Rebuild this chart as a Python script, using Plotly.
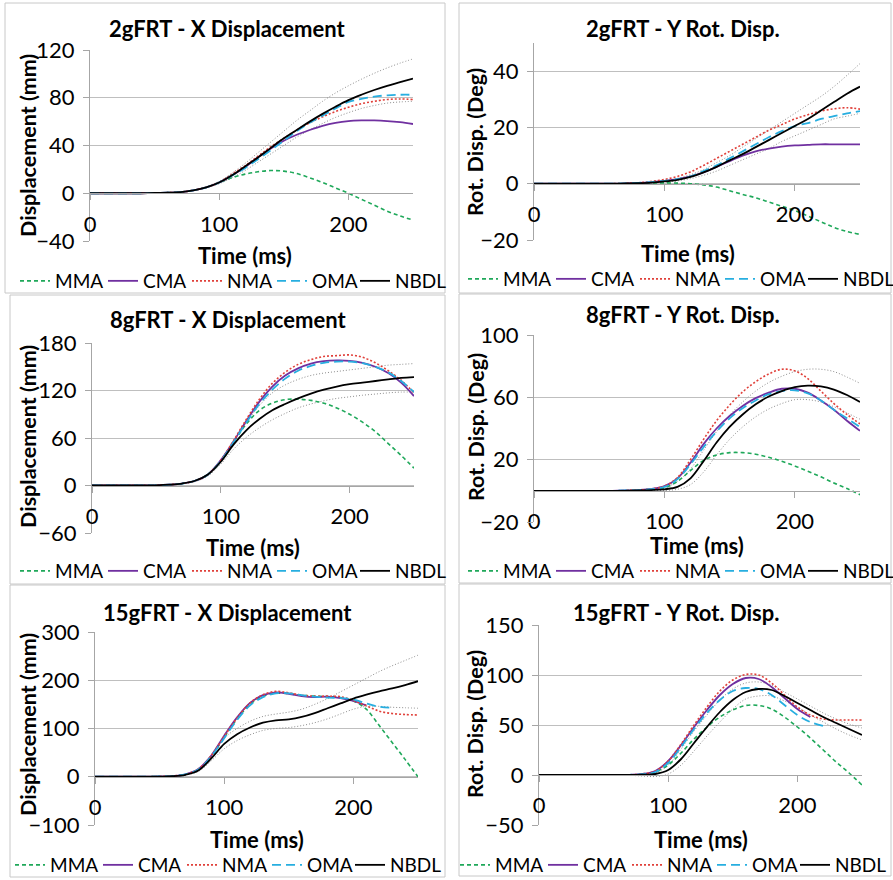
import plotly.graph_objects as go

W, H = 893, 880

# ---------------- data ----------------
time_ms = [0, 10, 20, 30, 40, 50, 60, 70, 80, 90, 100, 110, 120, 130, 140, 150, 160, 170, 180, 190, 200, 210, 220, 230, 240, 250]
series_names = ["MMA", "CMA", "NMA", "OMA", "NBDL"]
x_ticks = [0, 100, 200]

panel_titles = ["2gFRT - X Displacement", "2gFRT - Y Rot. Disp.",
                "8gFRT - X Displacement", "8gFRT - Y Rot. Disp.",
                "15gFRT - X Displacement", "15gFRT - Y Rot. Disp."]
y_titles = ["Displacement (mm)", "Rot. Disp. (Deg)",
            "Displacement (mm)", "Rot. Disp. (Deg)",
            "Displacement (mm)", "Rot. Disp. (Deg)"]
x_title = "Time (ms)"
y_ranges = [(-40, 120), (-20, 50), (-60, 180), (-20, 100), (-100, 300), (-50, 150)]
y_steps = [40, 20, 60, 40, 100, 50]

# 2g X displacement (mm)
p1_mma = [0, 0, 0, 0, 0, 0.2, 0.5, 1, 2.5, 5, 9, 13, 16, 18, 19, 18.5, 16.5, 13, 9, 4.5, 0, -5, -10, -15, -19, -22.5]
p1_cma = [0, 0, 0, 0, 0, 0.2, 0.5, 1, 2.5, 5, 9, 15, 22, 30, 37.5, 44, 49, 53, 56.5, 59, 60.5, 61, 61, 60.5, 59.5, 58]
p1_nma = [0, 0, 0, 0, 0, 0.2, 0.5, 1, 2.5, 5, 9, 16, 23, 31, 39, 46, 53, 59, 64, 68.5, 72, 75, 77, 78.5, 79, 78.5]
p1_oma = [0, 0, 0, 0, 0, 0.2, 0.5, 1, 2.5, 5, 9, 15, 21, 28.5, 36, 44, 52, 59, 65, 71, 76.5, 79, 81, 82, 82.5, 82.5]
p1_nbdl = [0, 0, 0, 0, 0, 0.2, 0.5, 1, 2.5, 5, 9, 15, 22.5, 30, 38, 46, 53, 60, 66.5, 72.5, 78, 82.5, 86.5, 90, 93, 96]
p1_upper = [0, 0, 0, 0, 0, 0.2, 0.5, 1, 2.5, 5.5, 10, 17, 25, 34, 43, 52, 61, 69, 77, 84, 90, 95.5, 100.5, 105, 109, 112.5]
p1_lower = [0, 0, 0, 0, 0, 0.2, 0.5, 1, 2.3, 4.5, 8, 13, 19, 26, 33, 40, 47, 53, 58.5, 63.5, 67.5, 71, 73.5, 75.5, 76.5, 77]

# 2g Y rotation (deg)
p2_mma = [0, 0, 0, 0, 0, 0, 0, 0.1, 0.2, 0.3, 0.3, 0.2, 0, -0.4, -1.2, -2.5, -3.8, -5, -6.5, -8, -9.5, -11.5, -13.5, -15.5, -17, -18]
p2_cma = [0, 0, 0, 0, 0, 0, 0, 0.1, 0.3, 0.6, 1, 1.6, 2.6, 4, 6, 8, 10, 11.5, 12.5, 13.2, 13.6, 13.8, 14, 14, 14, 14]
p2_nma = [0, 0, 0, 0, 0, 0, 0, 0.1, 0.3, 0.8, 1.5, 2.6, 4.2, 6.5, 9, 11.5, 14, 16.5, 19, 21, 23, 24.5, 25.8, 26.6, 27, 26.5]
p2_oma = [0, 0, 0, 0, 0, 0, 0, 0.1, 0.3, 0.6, 1, 1.6, 2.6, 4.5, 6.5, 9, 11.5, 14, 16.5, 18.7, 20.5, 21.5, 23, 24, 25, 25.8]
p2_nbdl = [0, 0, 0, 0, 0, 0, 0, 0.1, 0.2, 0.4, 0.8, 1.4, 2.4, 4, 6, 8.3, 10.5, 13, 15.5, 18, 20.5, 23, 26, 29, 32, 34.5]
p2_upper = [0, 0, 0, 0, 0, 0, 0, 0.1, 0.3, 0.6, 1.1, 1.9, 3.2, 5, 7.5, 10, 13, 16, 19, 22, 25, 28, 31, 34.5, 38.5, 42.7]
p2_lower = [0, 0, 0, 0, 0, 0, 0, 0, 0.1, 0.2, 0.5, 1, 1.8, 3, 4.5, 6.5, 8.5, 10.5, 12.5, 15, 17, 19, 21, 23, 24, 25]

# 8g X displacement (mm)
p3_mma = [0, 0, 0, 0, 0, 0.2, 1, 2.5, 6, 14, 31, 55, 78, 95, 104, 108.5, 109, 107.5, 104, 98, 90, 80, 68, 53, 38, 22]
p3_cma = [0, 0, 0, 0, 0, 0.2, 1, 2.5, 6, 14, 32, 56, 82, 106, 125, 139, 148, 154, 157, 158, 157.5, 155, 150, 142, 130, 113]
p3_nma = [0, 0, 0, 0, 0, 0.2, 1, 2.5, 6, 14, 32, 57, 84, 109, 129, 143, 153, 159, 163, 164, 165, 162, 155, 145, 133, 117]
p3_oma = [0, 0, 0, 0, 0, 0.2, 1, 2.5, 6, 14, 31, 55, 80, 103, 121, 135, 145, 151, 155, 156.5, 156.5, 154.5, 150, 143, 132, 118]
p3_nbdl = [0, 0, 0, 0, 0, 0.2, 1, 2.5, 6, 14, 30, 52, 70, 84, 95, 103, 110, 116, 121, 125, 128, 130, 132, 134, 136, 137]
p3_upper = [0, 0, 0, 0, 0, 0.2, 1, 2.5, 6, 14, 32, 56, 80, 101, 117, 127, 134, 139, 142, 144, 146, 148, 150, 152, 153, 154]
p3_lower = [0, 0, 0, 0, 0, 0.2, 1, 2.2, 5, 12, 27, 46, 61, 73, 83, 91, 98, 103, 107, 110, 112, 114, 115.5, 117, 118, 118]

# 8g Y rotation (deg)
p4_mma = [0, 0, 0, 0, 0, 0, 0, 0.2, 0.5, 1, 2, 6, 13, 19.5, 23, 24.5, 24.5, 23.5, 21.5, 19, 16, 12.5, 9, 5, 1.5, -2.5]
p4_cma = [0, 0, 0, 0, 0, 0, 0, 0.2, 0.5, 1.2, 3, 8, 18, 30, 40, 48, 54.5, 59.5, 63, 65.5, 65.5, 63, 58, 52, 45, 38.5]
p4_nma = [0, 0, 0, 0, 0, 0, 0, 0.2, 0.5, 1.2, 3, 8.5, 20, 33, 45, 55, 63.5, 70, 75, 78, 77, 72, 64, 56, 49, 43]
p4_oma = [0, 0, 0, 0, 0, 0, 0, 0.2, 0.5, 1.1, 2.5, 7.5, 17, 28, 38, 46.5, 53, 58, 62, 64, 64.5, 62.5, 58, 52, 46.5, 41]
p4_nbdl = [0, 0, 0, 0, 0, 0, 0, 0, 0.2, 0.5, 1, 2.5, 8, 19, 31, 41, 49, 55.5, 60.5, 64, 66.5, 67.5, 67, 65, 61.5, 57]
p4_upper = [0, 0, 0, 0, 0, 0, 0, 0.2, 0.4, 0.9, 2, 6, 14, 26, 38, 48.5, 57, 64, 69.5, 73.5, 76.5, 78, 78, 76.5, 73, 69]
p4_lower = [0, 0, 0, 0, 0, 0, 0, 0, 0, 0.1, 0.3, 1, 4, 12, 23, 33, 41, 47.5, 52.5, 56, 58.5, 58.5, 57, 54, 50, 46]

# 15g X displacement (mm)
p5_mma = [0, 0, 0, 0, 0, 0.5, 1.5, 5, 15, 42, 82, 120, 150, 167, 173, 172, 169, 167, 166, 164, 157, 140, 106, 71, 36, 0]
p5_cma = [0, 0, 0, 0, 0, 0.5, 1.5, 5, 16, 44, 85, 123, 153, 169, 175, 172, 167, 165, 166, 163, 157, 148]
p5_nma = [0, 0, 0, 0, 0, 0.5, 1.5, 5, 16, 44, 84, 122, 153, 170, 177, 174, 169, 167, 167, 166, 158, 147, 136, 131, 129, 128]
p5_oma = [0, 0, 0, 0, 0, 0.5, 1.5, 5, 15, 42, 80, 118, 148, 165, 173, 173, 169, 166, 164, 163, 160, 152, 145, 143]
p5_nbdl = [0, 0, 0, 0, 0, 0.3, 1, 4, 13, 38, 68, 88, 102, 112, 117, 119, 124, 132, 142, 152, 162, 170, 177, 183, 190, 198]
p5_upper = [0, 0, 0, 0, 0, 0.3, 1.2, 4.5, 15, 42, 80, 100, 115, 125, 130, 134, 140, 150, 162, 176, 190, 204, 218, 230, 241, 252]
p5_lower = [0, 0, 0, 0, 0, 0.2, 0.8, 3.5, 11, 33, 58, 75, 87, 96, 100, 102, 106, 112, 120, 130, 140, 146, 146, 144, 143, 142]

# 15g Y rotation (deg)
p6_mma = [0, 0, 0, 0, 0, 0, 0, 0, 0.5, 3, 10, 22, 36, 48, 58, 65, 69.5, 69.5, 66, 58, 48, 37, 25, 13, 2, -10]
p6_cma = [0, 0, 0, 0, 0, 0, 0, 0.2, 1, 4, 14, 30, 48, 65, 80, 91, 97, 96, 88, 77, 66, 58]
p6_nma = [0, 0, 0, 0, 0, 0, 0, 0.2, 1, 4, 14, 31, 50, 68, 84, 95, 100.5, 100, 92, 80, 68, 60, 56, 55, 55, 55]
p6_oma = [0, 0, 0, 0, 0, 0, 0, 0.2, 0.8, 3, 12, 28, 46, 62, 75, 84, 87, 86, 80, 70, 60, 53, 49]
p6_nbdl = [0, 0, 0, 0, 0, 0, 0, 0, 0.3, 1, 5, 16, 32, 48, 63, 75, 83, 86, 85, 79, 72, 65, 58, 52, 46, 40]
p6_upper = [0, 0, 0, 0, 0, 0, 0, 0.2, 0.8, 2, 10, 26, 44, 60, 75, 86, 92, 93, 90, 83, 76, 69, 62, 56, 51, 47]
p6_lower = [0, 0, 0, 0, 0, 0, 0, -0.3, -1, -1.5, 1, 10, 24, 39, 53, 66, 76, 79, 79, 74, 68, 60, 53, 46, 40, 35]

panels_series = [
    [p1_mma, p1_cma, p1_nma, p1_oma, p1_nbdl, p1_upper, p1_lower],
    [p2_mma, p2_cma, p2_nma, p2_oma, p2_nbdl, p2_upper, p2_lower],
    [p3_mma, p3_cma, p3_nma, p3_oma, p3_nbdl, p3_upper, p3_lower],
    [p4_mma, p4_cma, p4_nma, p4_oma, p4_nbdl, p4_upper, p4_lower],
    [p5_mma, p5_cma, p5_nma, p5_oma, p5_nbdl, p5_upper, p5_lower],
    [p6_mma, p6_cma, p6_nma, p6_oma, p6_nbdl, p6_upper, p6_lower],
]

# ---------------- layout (pixels) ----------------
plot_boxes = [  # left, right, top, bottom of plot area
    (90, 413, 50, 241), (534, 860, 43, 240),
    (92, 414, 343, 533), (534, 860, 335, 522),
    (95, 418, 632, 825), (539, 862, 625, 825),
]
frames = [(5, 445, 3, 293), (459, 891, 3, 293),
          (10, 445, 295, 584), (459, 891, 294, 583),
          (10, 445, 585, 877), (459, 891, 584, 876)]
title_pos = [(227, 28), (683, 28), (228, 319), (683, 315), (228, 612), (676, 612)]
ytitle_pos = [(28, 146), (475, 142), (28, 437), (476, 427), (28, 725), (475, 724)]
xtitle_pos = [(245, 255), (688, 254), (253, 547), (697, 545), (257, 839), (701, 839)]
legend_pos = [(15, 281), (463, 279), (15, 571), (463, 571), (10, 865), (455, 865)]
legend_widths = [43, 39, 40, 38, 49]

colors = ["#1FA85A", "#7030A0", "#E0403A", "#27AEE0", "#000000", "#8C8C8C", "#8C8C8C"]
dashes = ["4px,3px", "solid", "2px,2px", "9px,5px", "solid", "1px,2px", "1px,2px"]
widths = [1.6, 1.8, 1.6, 1.8, 1.8, 1, 1]

FONT = "Lato"
GRID = "#BFBFBF"

def px_x(p):
    return p / W

def px_y(p):
    return 1 - p / H

fig = go.Figure()
layout = dict(width=W, height=H, margin=dict(l=0, r=0, t=0, b=0, autoexpand=False),
              paper_bgcolor="white", plot_bgcolor="white",
              font=dict(family=FONT, color="black"))
annotations = []
shapes = []

for i in range(6):
    n = i + 1
    sfx = "" if n == 1 else str(n)
    L, R, T, B = plot_boxes[i]
    ymin, ymax = y_ranges[i]
    zero_px = T + (ymax - 0) / (ymax - ymin) * (B - T)
    leg = "legend" + sfx
    for k in (5, 6):
        ys = panels_series[i][k]
        fig.add_trace(go.Scatter(x=time_ms[:len(ys)], y=ys, mode="lines", line_shape="spline",
                                 line=dict(color=colors[k], dash=dashes[k], width=widths[k]),
                                 showlegend=False, hoverinfo="skip",
                                 xaxis="x" + sfx, yaxis="y" + sfx))
    for k in range(5):
        ys = panels_series[i][k]
        fig.add_trace(go.Scatter(x=time_ms[:len(ys)], y=ys, mode="lines", line_shape="spline",
                                 name=series_names[k], legendwidth=legend_widths[k],
                                 line=dict(color=colors[k], dash=dashes[k], width=widths[k]),
                                 legend=leg, showlegend=True,
                                 xaxis="x" + sfx, yaxis="y" + sfx))
    layout["xaxis" + sfx] = dict(domain=[px_x(L), px_x(R)], range=[0, 250], anchor="free",
                                 position=px_y(zero_px), showgrid=False, zeroline=False,
                                 showline=True, linecolor="#A6A6A6", linewidth=1,
                                 tickvals=x_ticks, ticks="outside", ticklen=6, tickcolor="#A6A6A6",
                                 ticklabelstandoff=5,
                                 tickfont=dict(family=FONT, size=22, color="black"))
    layout["yaxis" + sfx] = dict(domain=[px_y(B), px_y(T)], range=[ymin, ymax],
                                 anchor="x" + sfx, tick0=ymin, dtick=y_steps[i],
                                 showgrid=True, gridcolor=GRID, gridwidth=1, zeroline=False,
                                 showline=True, linecolor="#A6A6A6", linewidth=1,
                                 ticks="outside", ticklen=6, tickcolor="#A6A6A6",
                                 ticklabelstandoff=4,
                                 tickfont=dict(family=FONT, size=22, color="black"))
    lx, ly = legend_pos[i]
    layout[leg] = dict(orientation="h", x=px_x(lx), y=px_y(ly), xanchor="left", yanchor="middle",
                       bgcolor="rgba(0,0,0,0)", itemwidth=30,
                       font=dict(family=FONT, size=19, color="black"), tracegroupgap=0)
    fl, fr, ft, fb = frames[i]
    shapes.append(dict(type="rect", xref="paper", yref="paper",
                       x0=px_x(fl), x1=px_x(fr), y0=px_y(fb), y1=px_y(ft),
                       line=dict(color="#C8C8C8", width=1), fillcolor="rgba(0,0,0,0)", layer="below"))
    tx, ty = title_pos[i]
    annotations.append(dict(text="<b>" + panel_titles[i] + "</b>", x=px_x(tx), y=px_y(ty),
                            xref="paper", yref="paper", showarrow=False, xanchor="center", yanchor="middle",
                            font=dict(family=FONT, size=22, color="black")))
    yx, yy = ytitle_pos[i]
    annotations.append(dict(text="<b>" + y_titles[i] + "</b>", x=px_x(yx), y=px_y(yy),
                            xref="paper", yref="paper", showarrow=False, textangle=-90,
                            xanchor="center", yanchor="middle",
                            font=dict(family=FONT, size=21.5, color="black")))
    xx, xy = xtitle_pos[i]
    annotations.append(dict(text="<b>" + x_title + "</b>", x=px_x(xx), y=px_y(xy),
                            xref="paper", yref="paper", showarrow=False,
                            xanchor="center", yanchor="middle", borderpad=0,
                            font=dict(family=FONT, size=22, color="black")))

layout["annotations"] = annotations
layout["shapes"] = shapes
fig.update_layout(**layout)
fig.write_html("out.html",
               post_script="document.body.style.margin='0';document.body.style.overflow='hidden';")
